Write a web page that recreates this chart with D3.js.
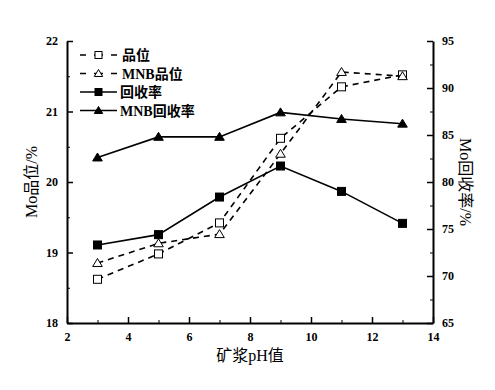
<!DOCTYPE html>
<html>
<head>
<meta charset="utf-8">
<script src="https://cdn.jsdelivr.net/npm/d3@7"></script>
<style>
  body { margin: 0; background: #fff; }
  text { font-family: "Liberation Serif", "Times New Roman", serif; }
  .cjk { font-family: "Liberation Serif", "Noto Sans CJK SC", serif; }
</style>
</head>
<body>
<svg id="chart" width="495" height="390"></svg>
<script>
// pH values on x axis
const ph = [3, 5, 7, 9, 11, 13];
// grade (%), left axis
const grade = [18.62, 18.98, 19.42, 20.62, 21.35, 21.52];
const gradeMNB = [18.85, 19.13, 19.26, 20.40, 21.56, 21.50];
// recovery (%), right axis
const recovery = [73.3, 74.4, 78.4, 81.7, 79.0, 75.6];
const recoveryMNB = [82.6, 84.8, 84.8, 87.4, 86.7, 86.2];

const xTicks = [2, 4, 6, 8, 10, 12, 14];
const leftTicks = [18, 19, 20, 21, 22];
const rightTicks = [65, 70, 75, 80, 85, 90, 95];

const margin = {left: 67, right: 62, top: 41, bottom: 67};
const W = 495, H = 390;

const svg = d3.select("#chart");

const x = d3.scaleLinear().domain([2, 14]).range([margin.left, W - margin.right]);
const yL = d3.scaleLinear().domain([18, 22]).range([H - margin.bottom, margin.top]);
const yR = d3.scaleLinear().domain([65, 95]).range([H - margin.bottom, margin.top]);

const series = [
    {name: "品位", vals: grade, y: yL, marker: "square", fill: "#fff", dash: "6,5"},
    {name: "MNB品位", vals: gradeMNB, y: yL, marker: "triangle", fill: "#fff", dash: "6,5"},
    {name: "回收率", vals: recovery, y: yR, marker: "square", fill: "#000", dash: null},
    {name: "MNB回收率", vals: recoveryMNB, y: yR, marker: "triangle", fill: "#000", dash: null},
];

// axes
function styleAxis(g) {
    g.attr("font-family", null).attr("font-size", 12).attr("font-weight", "bold");
    g.select(".domain").attr("stroke-width", 2);
    g.selectAll(".tick line").attr("stroke-width", 1.5);
}

function minor(axisFn, scale, step, lo, hi) {
    return axisFn(scale).tickValues(d3.range(lo, hi + 1e-9, step)).tickSize(-3).tickFormat("");
}

const fmt = d3.format("d");
const bottom = H - margin.bottom;
svg.append("g")
    .attr("transform", `translate(0,${bottom})`)
    .call(minor(d3.axisBottom, x, 1, 3, 13))
    .call(g => g.select(".domain").remove());
svg.append("g")
    .attr("transform", `translate(0,${bottom})`)
    .call(d3.axisBottom(x).tickValues(xTicks).tickFormat(fmt).tickSize(-6).tickSizeOuter(0).tickPadding(9))
    .call(styleAxis);

svg.append("g")
    .attr("transform", `translate(${margin.left},0)`)
    .call(minor(d3.axisLeft, yL, 1, 18.5, 21.5))
    .call(g => g.select(".domain").remove());
svg.append("g")
    .attr("transform", `translate(${margin.left},0)`)
    .call(d3.axisLeft(yL).tickValues(leftTicks).tickFormat(fmt).tickSize(-6).tickSizeOuter(0).tickPadding(9))
    .call(styleAxis);

const right = W - margin.right;
svg.append("g")
    .attr("transform", `translate(${right},0)`)
    .call(minor(d3.axisRight, yR, 5, 67.5, 92.5))
    .call(g => g.select(".domain").remove());
svg.append("g")
    .attr("transform", `translate(${right},0)`)
    .call(d3.axisRight(yR).tickValues(rightTicks).tickFormat(fmt).tickSize(-6).tickSizeOuter(0).tickPadding(9))
    .call(styleAxis);

svg.selectAll(".tick text").attr("fill", "#000");
svg.selectAll(".tick line").attr("stroke", "#000");

// axis titles
svg.append("text")
    .attr("class", "cjk")
    .attr("transform", `translate(37,${(margin.top + bottom) / 2}) rotate(-90)`)
    .attr("text-anchor", "middle")
    .attr("font-size", 16)
    .text("Mo品位/%");
svg.append("text")
    .attr("class", "cjk")
    .attr("transform", `translate(460,${(margin.top + bottom) / 2}) rotate(90)`)
    .attr("text-anchor", "middle")
    .attr("font-size", 16)
    .text("Mo回收率/%");
svg.append("text")
    .attr("class", "cjk")
    .attr("x", (margin.left + right) / 2)
    .attr("y", 361)
    .attr("text-anchor", "middle")
    .attr("font-size", 16)
    .text("矿浆pH值");

// markers
function drawMarker(g, type, cx, cy, fill, s) {
    if (type === "square") {
        g.append("rect")
            .attr("x", cx - s / 2).attr("y", cy - s / 2)
            .attr("width", s).attr("height", s)
            .attr("fill", fill).attr("stroke", "#000").attr("stroke-width", 1);
    } else {
        const h = s * 0.95;
        g.append("path")
            .attr("d", `M${cx},${cy - h * 0.6} L${cx + s * 0.6},${cy + h * 0.45} L${cx - s * 0.6},${cy + h * 0.45} Z`)
            .attr("fill", fill).attr("stroke", "#000").attr("stroke-width", 1);
    }
}

const line = d3.line();
series.forEach(s => {
    const pts = ph.map((p, i) => [x(p), s.y(s.vals[i])]);
    svg.append("path")
        .attr("d", line(pts))
        .attr("fill", "none")
        .attr("stroke", "#000")
        .attr("stroke-width", 1.6)
        .attr("stroke-dasharray", s.dash);
    const g = svg.append("g");
    pts.forEach(p => drawMarker(g, s.marker, p[0], p[1], s.fill, 8));
});

// legend
const legend = svg.append("g");
series.forEach((s, i) => {
    const ly = 55 + i * 18.5;
    legend.append("line")
        .attr("x1", 80).attr("x2", 117).attr("y1", ly).attr("y2", ly)
        .attr("stroke", "#000").attr("stroke-width", 1.6)
        .attr("stroke-dasharray", s.dash ? "6,8,9,8,6" : null);
    drawMarker(legend, s.marker, 98.5, ly, s.fill, 7);
    legend.append("text")
        .attr("class", "cjk")
        .attr("x", s.dash ? 122 : 120).attr("y", ly + 5)
        .attr("font-size", 14).attr("font-weight", "bold")
        .text(s.name);
});
</script>
</body>
</html>
